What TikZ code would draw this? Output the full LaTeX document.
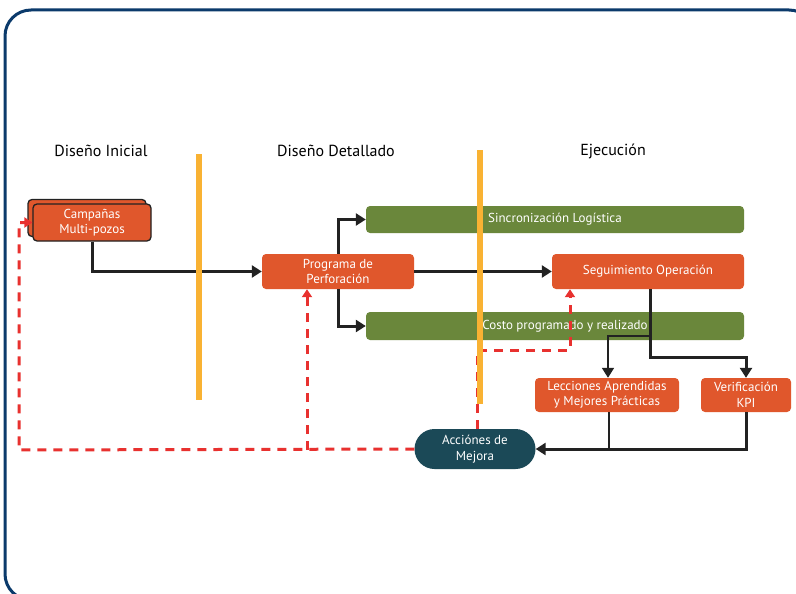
\documentclass[tikz,border=0pt]{standalone}
\usepackage{fontspec}
\setmainfont{PT Sans}
\usetikzlibrary{arrows.meta,calc}
\definecolor{frameblue}{HTML}{0B3A6B}
\definecolor{boxorange}{HTML}{E0572C}
\definecolor{boxgreen}{HTML}{6A873B}
\definecolor{boxteal}{HTML}{1B4957}
\definecolor{bargold}{HTML}{F9B233}
\definecolor{dashred}{HTML}{E8312F}
\definecolor{lineblack}{HTML}{222222}
\tikzset{
  obox/.style={fill=boxorange, rounded corners=4pt, text=white, align=center, font=\fontsize{13}{15.5}\selectfont, inner sep=0pt},
  gbox/.style={fill=boxgreen, rounded corners=4pt, text=white, font=\fontsize{13}{15.5}\selectfont, inner sep=0pt},
  phase/.style={font=\fontsize{16}{18}\selectfont, text=black},
  blk/.style={draw=lineblack, line width=3pt, -{Triangle[length=10pt,width=12pt]}},
  blkthin/.style={draw=lineblack, line width=1.8pt},
  reddash/.style={draw=dashred, line width=3pt, dash pattern=on 9pt off 7pt, -{Triangle[length=8pt,width=10pt]}},
  phasebar/.style={fill=bargold, draw=none}
}
\begin{document}
\begin{tikzpicture}[x=1pt,y=-1pt]
\useasboundingbox (0,0) rectangle (796,594);
\clip (0,0) rectangle (796,594);
\fill[white] (0,0) rectangle (796,594);
% frame
\draw[frameblue, line width=3pt, rounded corners=26pt] (5,10) rectangle (815,600);

% phase labels
\node[phase] (p1) at (101,151) {Diseño Inicial};
\node[phase] (p2) at (336,151) {Diseño Detallado};
\node[phase] (p3) at (613,151) {Ejecución};

% nodes
\node[obox, draw=lineblack, line width=1.3pt, minimum width=118pt, minimum height=37pt] (campback) at (87,218) {};
\node[obox, draw=lineblack, line width=1.3pt, minimum width=118pt, minimum height=37pt] (camp) at (92,222.5) {Campañas\\Multi-pozos};
\node[obox, minimum width=152pt, minimum height=35pt] (prog) at (338,271.5) {Programa de\\Perforación};
\node[gbox, minimum width=378pt, minimum height=27pt] (sinc) at (555,219.5) {Sincronización Logística};
\node[gbox, minimum width=378pt, minimum height=28pt] (cost) at (555,326) {\hspace*{20pt}Costo programado y realizado};
\node[obox, minimum width=192pt, minimum height=35pt] (seg) at (648,271.5) {Seguimiento Operación};
\node[obox, minimum width=144pt, minimum height=34pt] (lec) at (607,395) {Lecciones Aprendidas\\y Mejores Prácticas};
\node[obox, minimum width=90pt, minimum height=34pt] (kpi) at (746,395) {Verificación\\KPI};
\node[fill=boxteal, rounded corners=20pt, text=white, align=center, font=\fontsize{13}{15.5}\selectfont, minimum width=121pt, minimum height=40pt, inner sep=0pt] (acc) at (475,449) {Acciónes de\\Mejora};

% red dashed feedback
\coordinate (r1) at (19,450);
\coordinate (r2) at (307,450);
\coordinate (r3) at (570,350);
\draw[reddash] (acc.west) -- (r1) |- (camp.west);
\draw[reddash] (r2) -- (r2 |- prog.south);
\draw[reddash] ($(acc.north)+(2,0)$) |- (r3) -- (r3 |- seg.south);

% black connectors
\draw[blk] (camp.south) |- (prog.west);
\draw[blk] (prog.north) |- (sinc.west);
\draw[blk] (prog.south) |- (cost.west);
\draw[blk] (prog.east) -- (seg.west);
\coordinate (s1) at ($(seg.south)+(2,0)$);
\draw[blk] (s1) -- ++(0,68) -| (kpi.north);
\draw[blkthin, -{Triangle[length=10pt,width=12pt]}] ($(s1)+(0,47)$) -| ($(lec.north)+(1,0)$);
\draw[blk] (kpi.south) |- (acc.east);
\draw[blkthin] ($(lec.south)+(2,0)$) -- ($(lec.south |- acc.east)+(2,0)$);

% phase bars
\fill[bargold] (196,154) rectangle (202,400);
\fill[bargold] (477,150) rectangle (483,404);
\end{tikzpicture}
\end{document}
